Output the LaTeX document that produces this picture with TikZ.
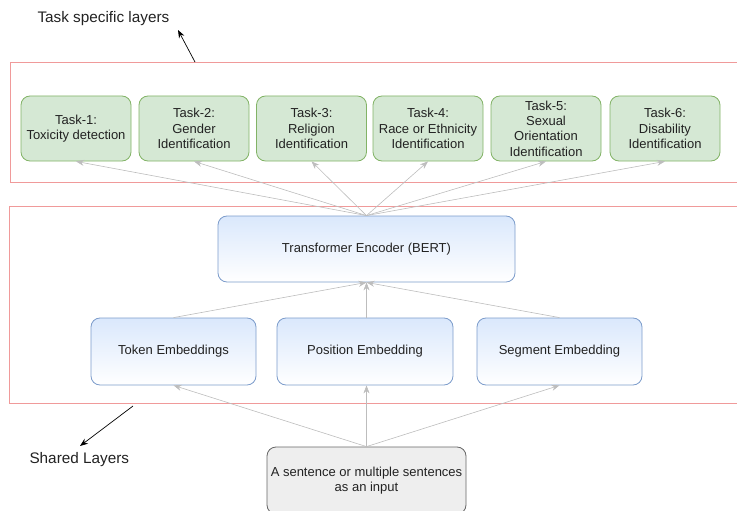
\documentclass[tikz,border=0pt]{standalone}
\usepackage{fontspec}
\setmainfont{Liberation Sans}
\usepackage{tikz}
\usetikzlibrary{arrows.meta}
\definecolor{taskfill}{HTML}{D5E8D4}
\definecolor{taskline}{HTML}{82B366}
\definecolor{bluefill}{HTML}{DAE8FC}
\definecolor{blueline}{HTML}{7C9CCB}
\definecolor{inputfill}{HTML}{EEEEEE}
\definecolor{inputline}{HTML}{666666}
\definecolor{framered}{HTML}{F09A9A}
\definecolor{linkgray}{HTML}{BDBDBD}
\definecolor{textgray}{HTML}{222222}
\tikzset{
  box/.style={rounded corners=9pt, line width=0.8pt, align=center,
    text=textgray, font=\fontsize{13}{15.4}\selectfont},
  taskbox/.style={box, fill=taskfill, draw=taskline,
    minimum width=110pt, minimum height=65pt},
  bluebox/.style={box, draw=blueline, top color=bluefill, bottom color=white,
    minimum height=66pt},
  inputbox/.style={box, fill=inputfill, draw=inputline,
    minimum width=199pt, minimum height=67pt},
  frame/.style={draw=framered, line width=0.9pt},
  link/.style={-{Stealth[length=8pt,width=6pt]}, draw=linkgray, line width=0.6pt},
  note/.style={-{Stealth[length=8pt,width=6pt]}, draw=black, line width=0.7pt},
  side/.style={anchor=west, text=textgray, font=\fontsize{15.3}{18}\selectfont}
}

\begin{document}
\begin{tikzpicture}[x=1pt,y=-1pt]
\useasboundingbox (0,0) rectangle (737,511);
% group frames
\draw[frame] (10,62) rectangle (745,182);
\draw[frame] (9,206) rectangle (745,403);
% task specific layers
\node[taskbox] (t1) at (76,128.5) {Task-1:\\Toxicity detection};
\node[taskbox] (t2) at (194,128.5) {Task-2:\\Gender\\Identification};
\node[taskbox] (t3) at (311.5,128.5) {Task-3:\\Religion\\Identification};
\node[taskbox] (t4) at (428,128.5) {Task-4:\\Race or Ethnicity\\Identification};
\node[taskbox] (t5) at (546,128.5) {Task-5:\\Sexual\\Orientation\\Identification};
\node[taskbox] (t6) at (665,128.5) {Task-6:\\Disability\\Identification};
% shared layers
\node[bluebox, minimum width=297pt] (bert) at (366.5,249) {Transformer Encoder (BERT)};
\node[bluebox, minimum width=165pt, minimum height=67pt] (tok) at (173.5,351.5) {Token Embeddings};
\node[bluebox, minimum width=176pt, minimum height=67pt] (pos) at (365,351.5) {Position Embedding};
\node[bluebox, minimum width=165pt, minimum height=67pt] (seg) at (559.5,351.5) {Segment Embedding};
\node[inputbox] (inp) at (366.5,480.5) {A sentence or multiple sentences\\as an input};
% connectors
\draw[link] (inp.north) -- (tok.south);
\draw[link] (inp.north) -- (pos.south -| inp.north);
\draw[link] (inp.north) -- (seg.south);
\draw[link] (tok.north) -- (bert.south);
\draw[link] (pos.north -| bert.south) -- (bert.south);
\draw[link] (seg.north) -- (bert.south);
\draw[link] (bert.north) -- (t1.south);
\draw[link] (bert.north) -- (t2.south);
\draw[link] (bert.north) -- (t3.south);
\draw[link] (bert.north) -- (t4.south);
\draw[link] (bert.north) -- (t5.south);
\draw[link] (bert.north) -- (t6.south);
% side notes
\node[side] (tasklbl) at (34,19) {Task specific layers};
\node[side] (sharedlbl) at (26,460) {Shared Layers};
\coordinate (taskfrm) at (195,62);
\coordinate (sharedfrm) at (133,406);
\draw[note] (taskfrm) -- (178,30);
\draw[note] (sharedfrm) -- (80,446);
\end{tikzpicture}
\end{document}
